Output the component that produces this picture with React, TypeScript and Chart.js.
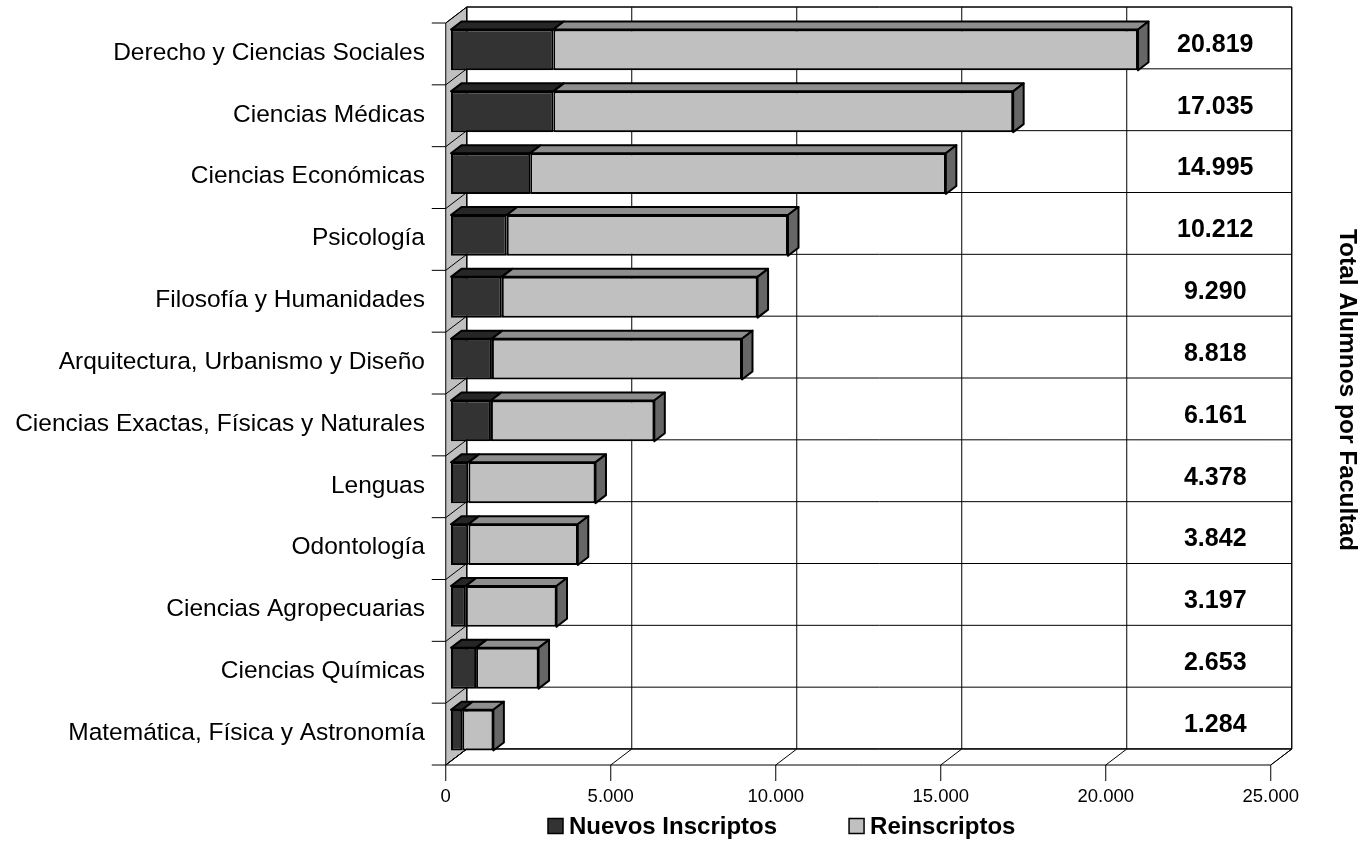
import React, { useEffect, useRef } from 'react';
import { Chart, registerables } from 'chart.js';

Chart.register(...registerables);

// ---------------- data ----------------
const categories = [
  'Derecho y Ciencias Sociales',
  'Ciencias Médicas',
  'Ciencias Económicas',
  'Psicología',
  'Filosofía y Humanidades',
  'Arquitectura, Urbanismo y Diseño',
  'Ciencias Exactas, Físicas y Naturales',
  'Lenguas',
  'Odontología',
  'Ciencias Agropecuarias',
  'Ciencias Químicas',
  'Matemática, Física y Astronomía',
];
const nuevosInscriptos = [3100, 3100, 2400, 1690, 1540, 1240, 1210, 530, 530, 450, 760, 340];
const reinscriptos = [17719, 13935, 12595, 8522, 7750, 7578, 4951, 3848, 3312, 2747, 1893, 944];
const totalAlumnos = [20819, 17035, 14995, 10212, 9290, 8818, 6161, 4378, 3842, 3197, 2653, 1284];
const seriesNames = ['Nuevos Inscriptos', 'Reinscriptos'];
const xMin = 0;
const xMax = 25000;
const xStep = 5000;
const rightTitle = 'Total Alumnos por Facultad';

// ---------------- styles ----------------
const FONT = '"Liberation Sans", Arial, Helvetica, sans-serif';
const frontColors = ['#333333', '#C0C0C0'];
const topColors = ['#262626', '#8E8E8E'];
const sideColors = ['#1E1E1E', '#666666'];

const W = 1368;
const H = 843;
const AREA_LEFT = 451;
const AREA_RIGHT = 1276;
const AREA_TOP = 19;
const AREA_BOTTOM = 761;

// wall depth and bar position within depth
const DX = 21;
const DY = 16;
const BAR_FRONT = 0.25;
const BAR_BACK = 0.75;

const fmt = (v: number) => String(Math.round(v)).replace(/\B(?=(\d{3})+(?!\d))/g, '.');

const threeD = {
  id: 'threeD',
  beforeDatasetsDraw(chart: any) {
    const { ctx, chartArea, scales } = chart;
    const { left, right, top, bottom } = chartArea;
    const xs = scales.x;
    const ys = scales.y;
    const fx = -BAR_FRONT * DX;
    const fy = BAR_FRONT * DY;
    const bx = (1 - BAR_FRONT) * DX;
    const by = -(1 - BAR_FRONT) * DY;
    const n = chart.data.labels.length;
    const band = n > 1 ? ys.getPixelForValue(1) - ys.getPixelForValue(0) : bottom - top;
    const bounds: number[] = [];
    for (let i = 0; i < n; i++) bounds.push(ys.getPixelForValue(i) - band / 2);
    bounds.push(ys.getPixelForValue(n - 1) + band / 2);

    ctx.save();
    ctx.lineWidth = 1;
    ctx.strokeStyle = '#000';

    const poly = (pts: number[][], fill: string) => {
      ctx.beginPath();
      ctx.moveTo(pts[0][0], pts[0][1]);
      for (let i = 1; i < pts.length; i++) ctx.lineTo(pts[i][0], pts[i][1]);
      ctx.closePath();
      ctx.fillStyle = fill;
      ctx.fill();
      ctx.stroke();
    };
    const line = (x1: number, y1: number, x2: number, y2: number) => {
      ctx.beginPath();
      ctx.moveTo(x1, y1);
      ctx.lineTo(x2, y2);
      ctx.stroke();
    };

    // back wall
    poly([[left + bx, top + by], [right + bx, top + by], [right + bx, bottom + by], [left + bx, bottom + by]], '#FFFFFF');
    // left wall
    poly([[left + fx, top + fy], [left + bx, top + by], [left + bx, bottom + by], [left + fx, bottom + fy]], '#C0C0C0');
    // floor
    poly([[left + fx, bottom + fy], [right + fx, bottom + fy], [right + bx, bottom + by], [left + bx, bottom + by]], '#FFFFFF');

    // vertical grid lines on back wall + floor diagonals + tick marks
    xs.ticks.forEach((t: any) => {
      const px = xs.getPixelForValue(t.value);
      line(px + bx, top + by, px + bx, bottom + by);
      line(px + fx, bottom + fy, px + bx, bottom + by);
      line(px + fx, bottom + fy, px + fx, bottom + fy + 16);
    });
    // horizontal grid lines on back wall + left wall diagonals + tick marks
    bounds.forEach((b) => {
      line(left + bx, b + by, right + bx, b + by);
      line(left + fx, b + fy, left + bx, b + by);
      line(left + fx - 14, b + fy, left + fx, b + fy);
    });
    ctx.restore();
  },
  afterDatasetsDraw(chart: any) {
    const { ctx } = chart;
    const ddx = (BAR_BACK - BAR_FRONT) * DX;
    const ddy = -(BAR_BACK - BAR_FRONT) * DY;
    const last = chart.data.datasets.length - 1;
    ctx.save();
    ctx.strokeStyle = '#000';
    ctx.lineWidth = 2;
    ctx.lineJoin = 'round';
    chart.data.datasets.forEach((ds: any, d: number) => {
      const meta = chart.getDatasetMeta(d);
      meta.data.forEach((el: any) => {
        const { x, y, base, height } = el.getProps(['x', 'y', 'base', 'height'], true);
        const t = y - height / 2;
        const b = y + height / 2;
        ctx.beginPath();
        ctx.moveTo(base, t);
        ctx.lineTo(base + ddx, t + ddy);
        ctx.lineTo(x + ddx, t + ddy);
        ctx.lineTo(x, t);
        ctx.closePath();
        ctx.fillStyle = topColors[d];
        ctx.fill();
        ctx.stroke();
        if (d === last) {
          ctx.beginPath();
          ctx.moveTo(x, t);
          ctx.lineTo(x + ddx, t + ddy);
          ctx.lineTo(x + ddx, b + ddy);
          ctx.lineTo(x, b);
          ctx.closePath();
          ctx.fillStyle = sideColors[d];
          ctx.fill();
          ctx.stroke();
        }
      });
    });
    ctx.restore();
  },
  afterDraw(chart: any) {
    const { ctx, scales } = chart;
    const xs = scales.x;
    const ys = scales.y;
    const bx = (1 - BAR_FRONT) * DX;
    ctx.save();
    // total labels in last grid column
    const colX = (xs.getPixelForValue(xs.max) + xs.getPixelForValue(xs.max - xStep)) / 2 + bx + 6;
    ctx.font = `bold 25px ${FONT}`;
    ctx.fillStyle = '#000';
    ctx.textAlign = 'center';
    ctx.textBaseline = 'middle';
    totalAlumnos.forEach((v, i) => {
      ctx.fillText(fmt(v), colX, ys.getPixelForValue(i) - 5);
    });
    // legend
    ctx.font = `bold 24px ${FONT}`;
    let cx = 548;
    const cy = 826;
    const box = 15;
    ctx.textAlign = 'left';
    chart.data.datasets.forEach((ds: any, d: number) => {
      ctx.fillStyle = frontColors[d];
      ctx.fillRect(cx, cy - box / 2, box, box);
      ctx.lineWidth = 1.5;
      ctx.strokeStyle = '#000';
      ctx.strokeRect(cx, cy - box / 2, box, box);
      ctx.fillStyle = '#000';
      const tx = cx + box + 6;
      ctx.fillText(ds.label, tx, cy + 1);
      cx = tx + ctx.measureText(ds.label).width + 72;
    });
    ctx.restore();
  },
};

export default function App() {
  const ref = useRef<HTMLCanvasElement>(null);
  useEffect(() => {
    if (!ref.current) return;
    Chart.defaults.font.family = FONT;
    Chart.defaults.color = '#000';
    const chart = new Chart(ref.current, {
      type: 'bar',
      data: {
        labels: categories,
        datasets: [
          {
            label: seriesNames[0],
            data: nuevosInscriptos,
            backgroundColor: frontColors[0],
            borderColor: '#000',
            borderWidth: 2,
            borderSkipped: false,
          },
          {
            label: seriesNames[1],
            data: reinscriptos,
            backgroundColor: frontColors[1],
            borderColor: '#000',
            borderWidth: 2,
            borderSkipped: false,
          },
        ],
      },
      options: {
        indexAxis: 'y',
        responsive: false,
        animation: false,
        devicePixelRatio: 1,
        layout: { padding: { left: 0, right: 0, top: AREA_TOP, bottom: 0 } },
        datasets: { bar: { categoryPercentage: 1, barPercentage: 0.66 } },
        plugins: {
          legend: { display: false },
          tooltip: { enabled: false },
        },
        scales: {
          x: {
            type: 'linear',
            stacked: true,
            min: xMin,
            max: xMax,
            grid: { display: false, drawTicks: false },
            border: { display: false },
            ticks: {
              stepSize: xStep,
              padding: 25,
              labelOffset: -BAR_FRONT * DX,
              font: { size: 18.5, family: FONT },
              color: '#000',
              callback: (v: any) => fmt(Number(v)),
            },
            afterFit: (s: any) => {
              s.height = H - AREA_BOTTOM;
              s.paddingLeft = 0;
              s.paddingRight = 0;
            },
          },
          y: {
            type: 'category',
            stacked: true,
            grid: { display: false, drawTicks: false },
            border: { display: false },
            ticks: {
              autoSkip: false,
              padding: 26,
              labelOffset: 3,
              font: { size: 24.5, family: FONT },
              color: '#000',
            },
            afterFit: (s: any) => {
              s.width = AREA_LEFT;
              s.paddingTop = 0;
              s.paddingBottom = 0;
            },
          },
          y2: {
            type: 'linear',
            axis: 'y',
            position: 'right',
            grid: { display: false, drawTicks: false },
            border: { display: false },
            ticks: { display: false },
            title: {
              display: true,
              text: rightTitle,
              color: '#000',
              font: { size: 24.5, weight: 'bold', family: FONT },
              padding: { top: 6.4, bottom: 0 },
            },
            afterFit: (s: any) => {
              s.width = W - AREA_RIGHT;
              s.paddingTop = 0;
              s.paddingBottom = 0;
            },
          },
        },
      },
      plugins: [threeD],
    } as any);
    return () => chart.destroy();
  }, []);
  return (
    <div style={{ position: 'absolute', left: 0, top: 0, width: W, height: H, background: '#fff', overflow: 'hidden' }}>
      <canvas ref={ref} width={W} height={H} style={{ display: 'block' }} />
    </div>
  );
}
